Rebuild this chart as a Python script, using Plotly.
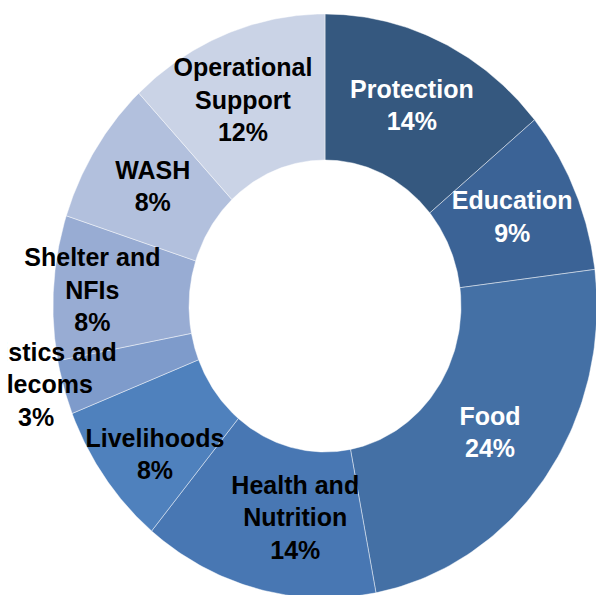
import numpy as np
import plotly.graph_objects as go

categories = [
    "Protection",
    "Education",
    "Food",
    "Health and Nutrition",
    "Livelihoods",
    "Logistics and Telecoms",
    "Shelter and NFIs",
    "WASH",
    "Operational Support",
]
shares = [14, 9, 24, 14, 8, 3, 8, 8, 12]
label_names = [
    "Protection",
    "Education",
    "Food",
    "Health and<br>Nutrition",
    "Livelihoods",
    "Logistics and<br>Telecoms",
    "Shelter and<br>NFIs",
    "WASH",
    "Operational<br>Support",
]

colors = [
    "#35587F",
    "#3B6396",
    "#4470A5",
    "#4877B3",
    "#4F81BD",
    "#7E9BCB",
    "#98ACD3",
    "#B2C0DD",
    "#CAD3E6",
]
text_colors = ["white", "white", "white", "black", "black", "black", "black", "black", "black"]

W, H = 596, 595
# ellipse geometry in pixels (the original is slightly squashed horizontally)
CX, CY = 325, 306
RX, RY = 272, 292
HOLE = 0.5
LEFT_CLIP = 7  # the original crops its left edge, cutting into one label

# label nudges in pixels, where the original moved labels off the mid-angle
nudges = {
    "Health and Nutrition": (21, 2),
    "Livelihoods": (-5, 22),
    "Logistics and Telecoms": (-93, 20),
    "Shelter and NFIs": (-29, 0),
    "Operational Support": (-7, 0),
}


def slice_polygon(a0: float, a1: float) -> tuple[np.ndarray, np.ndarray]:
    t = np.linspace(a0, a1, 80)
    x = np.concatenate([np.sin(t), HOLE * np.sin(t[::-1])])
    y = np.concatenate([np.cos(t), HOLE * np.cos(t[::-1])])
    x = np.append(x, x[0])
    y = np.append(y, y[0])
    return x, y


fig = go.Figure()

total = sum(shares)
start = 0.0
label_x, label_y, label_text = [], [], []
for name, lab, share, color in zip(categories, label_names, shares, colors):
    a0 = 2 * np.pi * start / total
    a1 = 2 * np.pi * (start + share) / total
    x, y = slice_polygon(a0, a1)
    fig.add_trace(
        go.Scatter(
            x=x,
            y=y,
            mode="lines",
            fill="toself",
            fillcolor=color,
            line=dict(color="rgba(255,255,255,0.45)", width=1),
            hoverinfo="skip",
            name=name,
        )
    )
    mid = (a0 + a1) / 2
    dx, dy = nudges.get(name, (0, 0))
    label_x.append(0.75 * np.sin(mid) + dx / RX)
    label_y.append(0.75 * np.cos(mid) - dy / RY)
    label_text.append(f"{lab}<br>{share}%")
    start += share

fig.add_trace(
    go.Scatter(
        x=label_x,
        y=label_y,
        mode="text",
        text=label_text,
        textposition="middle center",
        textfont=dict(family="Liberation Sans, Arial, sans-serif", size=25, color=text_colors, weight="bold"),
        cliponaxis=False,
        hoverinfo="skip",
    )
)

fig.add_shape(
    type="rect",
    xref="paper",
    yref="paper",
    x0=0,
    x1=LEFT_CLIP / W,
    y0=0,
    y1=1,
    fillcolor="white",
    line=dict(width=0),
    layer="above",
)

fig.update_layout(
    width=W,
    height=H,
    margin=dict(l=0, r=0, t=0, b=0),
    showlegend=False,
    paper_bgcolor="white",
    plot_bgcolor="white",
)
fig.update_xaxes(visible=False, range=[-CX / RX, (W - CX) / RX], fixedrange=True)
fig.update_yaxes(visible=False, range=[(CY - H) / RY, CY / RY], fixedrange=True)

# drop the default 8px body margin so the figure sits flush with the window
fig.write_html(
    "out.html",
    config={"displayModeBar": False},
    post_script="document.body.style.margin = '0';",
)
